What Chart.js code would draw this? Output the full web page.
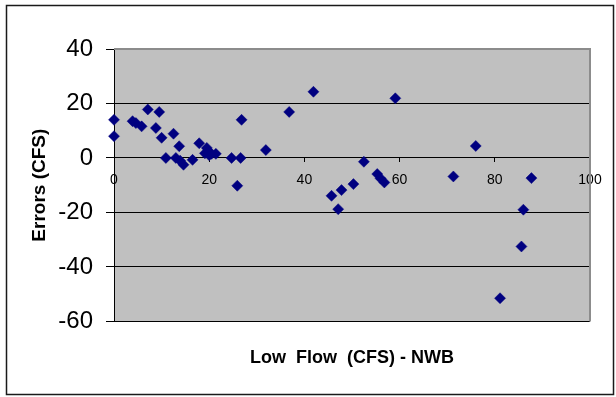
<!DOCTYPE html>
<html>
<head>
<meta charset="utf-8">
<script src="https://cdn.jsdelivr.net/npm/chart.js@4/dist/chart.umd.min.js"></script>
<style>
  html, body { margin: 0; padding: 0; background: #ffffff; }
  #wrap { width: 616px; height: 397px; position: relative; }
</style>
</head>
<body>
<div id="wrap"><canvas id="c" width="616" height="397"></canvas></div>
<script>
// Low flow (CFS) at each site and the corresponding model error (CFS)
const lowFlow = [0, 0, 3.9, 4.6, 5.8, 7.1, 8.8, 9.5, 10, 10.9, 12.5, 13, 13.7, 13.9, 14.6, 16.5, 17.9, 19.1, 19.5, 20, 20.5, 21.4, 24.7, 26.6, 26.8, 25.9, 31.9, 36.8, 41.9, 45.7, 47.1, 47.8, 50.3, 52.5, 55.3, 56, 56.8, 59.1, 71.3, 76, 81.1, 85.6, 86, 87.7];
const errors  = [14, 8, 13.5, 12.8, 11.6, 17.8, 11, 16.9, 7.4, 0, 8.9, 0, 4.3, -1, -2.5, -0.7, 5.4, 1.7, 3.7, 1, 1.5, 1.5, 0, 0, 14, -10.2, 2.9, 16.9, 24.3, -13.9, -18.8, -11.8, -9.6, -1.4, -5.9, -7.5, -9, 21.9, -6.8, 4.4, -51.5, -32.5, -19, -7.4];

const xTicks = [0, 20, 40, 60, 80, 100];
const yTicks = [-60, -40, -20, 0, 20, 40];

const xTitle = 'Low  Flow  (CFS) - NWB';
const yTitle = 'Errors (CFS)';

const points = lowFlow.map((x, i) => ({ x: x, y: errors[i] }));
const FONT = "Arial, 'Liberation Sans', Helvetica, sans-serif";

// Grey plot background plus the outer frame of the chart
const framePlugin = {
  id: 'frame',
  beforeDraw(chart) {
    const { ctx, chartArea: a } = chart;
    ctx.save();
    ctx.fillStyle = '#ffffff';
    ctx.fillRect(0, 0, chart.width, chart.height);
    ctx.fillStyle = '#c0c0c0';
    ctx.fillRect(a.left, a.top, a.right - a.left, a.bottom - a.top);
    ctx.restore();
  },
  beforeDatasetsDraw(chart) {
    const { ctx, chartArea: a } = chart;
    ctx.save();
    // plot area edge: top and right in grey
    ctx.strokeStyle = '#8c8c8c';
    ctx.lineWidth = 2;
    ctx.beginPath();
    ctx.moveTo(a.left, a.top);
    ctx.lineTo(a.right, a.top);
    ctx.lineTo(a.right, a.bottom);
    ctx.stroke();
    ctx.restore();
  },
  afterDraw(chart) {
    const { ctx } = chart;
    ctx.save();
    ctx.strokeStyle = '#1a1a1a';
    ctx.lineWidth = 1.5;
    ctx.strokeRect(6.5, 5.5, 607, 389);
    ctx.restore();
  }
};

new Chart(document.getElementById('c'), {
  type: 'scatter',
  data: {
    datasets: [{
      data: points,
      clip: false,
      pointStyle: 'rectRot',
      pointRadius: 5.5,
      pointBorderWidth: 0.5,
      backgroundColor: '#000080',
      borderColor: '#000080'
    }]
  },
  options: {
    responsive: false,
    animation: false,
    events: [],
    layout: { padding: { left: 0, right: 26, top: 49, bottom: 20 } },
    plugins: {
      legend: { display: false },
      tooltip: { enabled: false },
      title: {
        display: true,
        position: 'bottom',
        fullSize: false,
        text: xTitle,
        color: '#000000',
        font: { family: FONT, size: 18, weight: 'bold' },
        padding: { top: 26, bottom: 8 }
      }
    },
    scales: {
      x: {
        type: 'linear',
        position: { y: 0 },
        min: xTicks[0],
        max: xTicks[xTicks.length - 1],
        afterBuildTicks(scale) { scale.ticks = xTicks.map(v => ({ value: v })); },
        grid: { drawOnChartArea: false, drawTicks: true, tickLength: 4, color: '#000000', tickColor: '#000000' },
        border: { display: true, color: '#000000', width: 1 },
        ticks: { color: '#000000', font: { family: FONT, size: 14 }, padding: 10, maxRotation: 0 }
      },
      y: {
        type: 'linear',
        position: 'left',
        min: yTicks[0],
        max: yTicks[yTicks.length - 1],
        afterBuildTicks(scale) { scale.ticks = yTicks.map(v => ({ value: v })); },
        afterFit(scale) { scale.width = 114; },
        grid: {
          drawTicks: true,
          tickLength: 8,
          color: ctx => (ctx.tick && ctx.tick.value === yTicks[yTicks.length - 1]) ? 'rgba(0,0,0,0)' : '#000000',
          tickColor: '#000000',
          lineWidth: 1
        },
        border: { display: true, color: '#000000', width: 1 },
        ticks: { color: '#000000', font: { family: FONT, size: 24 }, padding: 13 },
        title: {
          display: true,
          text: yTitle,
          color: '#000000',
          font: { family: FONT, size: 19, weight: 'bold' },
          padding: { top: 28, bottom: 0 }
        }
      }
    }
  },
  plugins: [framePlugin]
});
</script>
</body>
</html>
